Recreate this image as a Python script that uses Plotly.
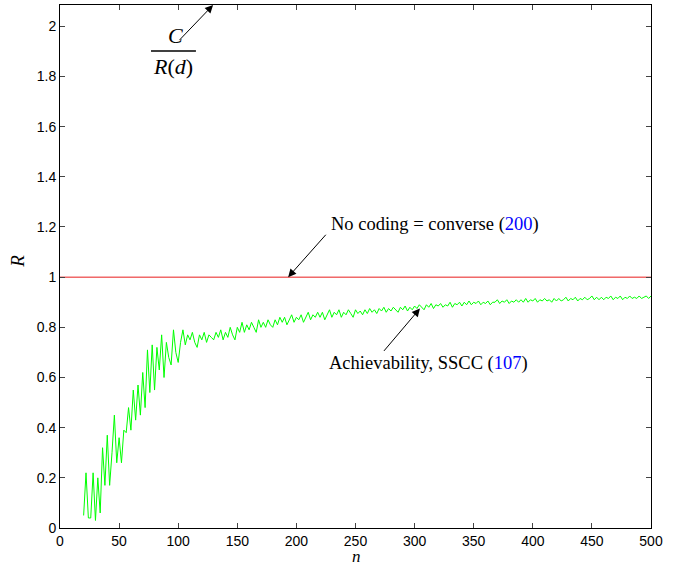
import plotly.graph_objects as go

# ---------------- data ----------------
n_values = list(range(20, 501, 2))

r_early = [0.05, 0.22, 0.04, 0.04, 0.22, 0.03, 0.20, 0.06, 0.32, 0.17,
           0.37, 0.17, 0.30, 0.45, 0.26, 0.36, 0.26, 0.39, 0.38, 0.48,
           0.39, 0.55, 0.43, 0.57, 0.45, 0.62, 0.48, 0.71, 0.54, 0.73,
           0.55, 0.72, 0.63, 0.77, 0.60, 0.74, 0.68, 0.65, 0.79, 0.70]
r_100 = [0.66, 0.74, 0.79, 0.73, 0.77, 0.75, 0.78, 0.74, 0.72, 0.77,
         0.75, 0.78, 0.74, 0.77, 0.76, 0.75, 0.78, 0.76, 0.79, 0.75]
r_140 = [0.78, 0.76, 0.80, 0.77, 0.75, 0.80, 0.78, 0.82, 0.78, 0.81,
         0.79, 0.82, 0.80, 0.78, 0.83, 0.80, 0.82, 0.80, 0.83, 0.81]
r_180 = [0.80, 0.83, 0.81, 0.84, 0.82, 0.84, 0.81, 0.83, 0.85, 0.82,
         0.84, 0.83, 0.85, 0.82, 0.84, 0.86, 0.83, 0.85, 0.84, 0.86]
r_220 = [0.84, 0.86, 0.83, 0.85, 0.87, 0.84, 0.86, 0.85, 0.87, 0.84,
         0.86, 0.85, 0.87, 0.855, 0.84, 0.87, 0.855, 0.865, 0.85, 0.87]
r_260 = [0.855, 0.875, 0.86, 0.87, 0.855, 0.875, 0.865, 0.88, 0.86, 0.875,
         0.865, 0.88, 0.87, 0.86, 0.88, 0.87, 0.885, 0.865, 0.88, 0.87]
r_300 = [0.885, 0.875, 0.89, 0.88, 0.87, 0.89, 0.88, 0.895, 0.875, 0.89,
         0.885, 0.895, 0.88, 0.89, 0.885, 0.90, 0.88, 0.895, 0.89, 0.90]
r_340 = [0.885, 0.90, 0.89, 0.905, 0.89, 0.90, 0.895, 0.905, 0.89, 0.90,
         0.895, 0.905, 0.89, 0.90, 0.90, 0.91, 0.895, 0.905, 0.90, 0.91]
r_380 = [0.895, 0.905, 0.90, 0.91, 0.90, 0.91, 0.90, 0.915, 0.90, 0.91,
         0.905, 0.915, 0.90, 0.91, 0.905, 0.915, 0.905, 0.91, 0.90, 0.915]
r_420 = [0.905, 0.915, 0.905, 0.91, 0.92, 0.905, 0.915, 0.91, 0.92, 0.905,
         0.915, 0.91, 0.92, 0.91, 0.915, 0.925, 0.91, 0.92, 0.91, 0.92]
r_460 = [0.91, 0.92, 0.915, 0.925, 0.91, 0.92, 0.915, 0.925, 0.91, 0.92,
         0.915, 0.925, 0.915, 0.92, 0.915, 0.925, 0.915, 0.92, 0.925, 0.915,
         0.925]

r_achiev = (r_early + r_100 + r_140 + r_180 + r_220 + r_260 + r_300 +
            r_340 + r_380 + r_420 + r_460)

n_converse = [0, 500]
r_converse = [1, 1]

x_ticks = [0, 50, 100, 150, 200, 250, 300, 350, 400, 450, 500]
y_ticks = [0, 0.2, 0.4, 0.6, 0.8, 1, 1.2, 1.4, 1.6, 1.8, 2]
y_max = 2.085

# ---------------- figure ----------------
fig = go.Figure()
fig.add_trace(go.Scatter(x=n_converse, y=r_converse, mode="lines",
                         line=dict(color="#e81c1c", width=1), showlegend=False))
fig.add_trace(go.Scatter(x=n_values, y=r_achiev, mode="lines",
                         line=dict(color="#00ff00", width=1), showlegend=False))

serif = "Liberation Serif, Times New Roman, serif"
txt_font = dict(family=serif, size=18.5, color="black")
frac_font = dict(family=serif, size=22, color="black")

annotations = [
    # text labels
    dict(x=317, y=1.209, text="No coding = converse (<span style='color:blue'>200</span>)",
         showarrow=False, font=txt_font, xanchor="center", yanchor="middle"),
    dict(x=312, y=0.655, text="Achievability, SSCC (<span style='color:blue'>107</span>)",
         showarrow=False, font=txt_font, xanchor="center", yanchor="middle"),
    dict(x=97.5, y=1.962, text="<i>C</i>", showarrow=False,
         font=frac_font, xanchor="center", yanchor="middle"),
    dict(x=95.5, y=1.840, text="<i>R</i>(<i>d</i>)", showarrow=False,
         font=frac_font, xanchor="center", yanchor="middle"),
    # axis titles
    dict(xref="paper", yref="paper", x=0.502, y=-0.055, text="<i>n</i>", showarrow=False,
         font=dict(family=serif, size=17, color="black"), xanchor="center", yanchor="middle"),
    dict(xref="paper", yref="paper", x=-0.071, y=0.509, text="<i>R</i>", showarrow=False,
         textangle=-90, font=dict(family=serif, size=19, color="black"),
         xanchor="center", yanchor="middle"),
    # arrows
    dict(x=193, y=1.0, ax=226, ay=1.175, axref="x", ayref="y", text="",
         showarrow=True, arrowhead=2, arrowsize=1.6, arrowwidth=1, arrowcolor="black"),
    dict(x=304.5, y=0.875, ax=273, ay=0.70, axref="x", ayref="y", text="",
         showarrow=True, arrowhead=2, arrowsize=1.6, arrowwidth=1, arrowcolor="black"),
    dict(x=129.5, y=y_max, ax=100, ay=1.94, axref="x", ayref="y", text="",
         showarrow=True, arrowhead=2, arrowsize=1.6, arrowwidth=1, arrowcolor="black"),
]

fig.update_layout(
    width=678, height=565,
    margin=dict(l=60, r=27, t=5, b=37, autoexpand=False),
    paper_bgcolor="white", plot_bgcolor="white",
    annotations=annotations,
    shapes=[dict(type="line", xref="x", yref="y", x0=77, x1=115, y0=1.902, y1=1.902,
                 line=dict(color="black", width=1.5))],
    font=dict(family="Liberation Sans, Arial, sans-serif", size=14, color="black"),
)
fig.update_xaxes(range=[0, 500], tickvals=x_ticks, ticks="inside", ticklen=5,
                 showline=True, linecolor="black", linewidth=1, mirror="ticks",
                 showgrid=False, zeroline=False, automargin=False)
fig.update_yaxes(range=[0, y_max], tickvals=y_ticks, ticks="inside", ticklen=5,
                 showline=True, linecolor="black", linewidth=1, mirror="ticks",
                 showgrid=False, zeroline=False, automargin=False)

fig.write_html("out.html", config={"displayModeBar": False},
               post_script="document.body.style.margin='0';document.body.style.padding='0';")
